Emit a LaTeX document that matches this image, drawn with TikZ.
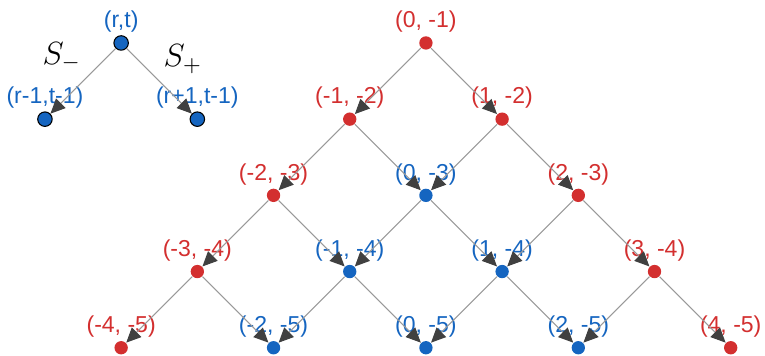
\documentclass[tikz,border=0pt]{standalone}
\usepackage{fontspec}
\setmainfont{Liberation Sans}
\usepackage{tikz}
\usetikzlibrary{arrows.meta, positioning}

\definecolor{dotred}{HTML}{D32F2F}
\definecolor{dotblue}{HTML}{1565C0}

\begin{document}
\begin{tikzpicture}[
  reddot/.style={circle, fill=dotred, inner sep=0pt, minimum size=0.175cm,
    label distance=1pt},
  bluedot/.style={circle, fill=dotblue, inner sep=0pt, minimum size=0.175cm,
    label distance=1pt},
  minidot/.style={circle, draw=black, fill=dotblue, inner sep=0pt, minimum size=0.19cm,
    label distance=1pt},
  redlbl/.style={text=dotred, font=\fontsize{8.6}{10}\selectfont, inner sep=1pt},
  bluelbl/.style={text=dotblue, font=\fontsize{8.6}{10}\selectfont, inner sep=1pt},
  arr/.style={draw=black!40, line width=0.4pt,
    -{Triangle[length=5.5pt, width=5pt, color=black!75]}},
]
\useasboundingbox (-5.59,-0.436) rectangle (4.45,-5.108);

% small legend tree
\node[minidot, label={[bluelbl]above:(r,t)}]      (mt) at (-4,-1) {};
\node[minidot, label={[bluelbl]above:(r-1,t-1)}]  (ml) at (-5,-2) {};
\node[minidot, label={[bluelbl]above:(r+1,t-1)}]  (mr) at (-3,-2) {};
\node[font=\large] (sminus) at (-4.78,-1.18) {$S_-$};
\node[font=\large] (splus)  at (-3.19,-1.21) {$S_+$};

\draw[arr] (mt) -- (ml);
\draw[arr] (mt) -- (mr);

% main tree
\node[reddot, label={[redlbl]above:{(0, -1)}}]   (a1) at (0,-1) {};

\node[reddot, label={[redlbl]above:{(-1, -2)}}]  (b1) at (-1,-2) {};
\node[reddot, label={[redlbl]above:{(1, -2)}}]   (b2) at (1,-2) {};

\node[reddot, label={[redlbl]above:{(-2, -3)}}]  (c1) at (-2,-3) {};
\node[bluedot, label={[bluelbl]above:{(0, -3)}}] (c2) at (0,-3) {};
\node[reddot, label={[redlbl]above:{(2, -3)}}]   (c3) at (2,-3) {};

\node[reddot, label={[redlbl]above:{(-3, -4)}}]   (d1) at (-3,-4) {};
\node[bluedot, label={[bluelbl]above:{(-1, -4)}}] (d2) at (-1,-4) {};
\node[bluedot, label={[bluelbl]above:{(1, -4)}}]  (d3) at (1,-4) {};
\node[reddot, label={[redlbl]above:{(3, -4)}}]    (d4) at (3,-4) {};

\node[reddot, label={[redlbl]above:{(-4, -5)}}]   (e1) at (-4,-5) {};
\node[bluedot, label={[bluelbl]above:{(-2, -5)}}] (e2) at (-2,-5) {};
\node[bluedot, label={[bluelbl]above:{(0, -5)}}]  (e3) at (0,-5) {};
\node[bluedot, label={[bluelbl]above:{(2, -5)}}]  (e4) at (2,-5) {};
\node[reddot, label={[redlbl]above:{(4, -5)}}]    (e5) at (4,-5) {};

\draw[arr] (a1) -- (b1);
\draw[arr] (a1) -- (b2);

\draw[arr] (b1) -- (c1);
\draw[arr] (b1) -- (c2);
\draw[arr] (b2) -- (c2);
\draw[arr] (b2) -- (c3);

\draw[arr] (c1) -- (d1);
\draw[arr] (c1) -- (d2);
\draw[arr] (c2) -- (d2);
\draw[arr] (c2) -- (d3);
\draw[arr] (c3) -- (d3);
\draw[arr] (c3) -- (d4);

\draw[arr] (d1) -- (e1);
\draw[arr] (d1) -- (e2);
\draw[arr] (d2) -- (e2);
\draw[arr] (d2) -- (e3);
\draw[arr] (d3) -- (e3);
\draw[arr] (d3) -- (e4);
\draw[arr] (d4) -- (e4);
\draw[arr] (d4) -- (e5);
\end{tikzpicture}
\end{document}
